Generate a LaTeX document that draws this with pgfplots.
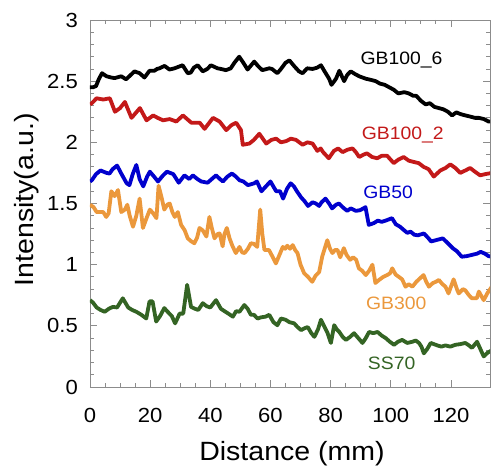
\documentclass[border=0pt]{standalone}
\usepackage{pgfplots}
\pgfplotsset{compat=1.18}
\usepackage{fontspec}
\setmainfont[FakeStretch=1.08]{Liberation Sans}
\definecolor{cred}{RGB}{195,25,25}
\definecolor{cblue}{RGB}{0,0,205}
\definecolor{corange}{RGB}{235,152,60}
\definecolor{cgreen}{RGB}{52,100,36}
\definecolor{caxis}{RGB}{140,140,140}
\begin{document}
\begin{tikzpicture}
\begin{axis}[
  at={(0,0)}, anchor=south west,
  scale only axis, width=400bp, height=367bp,
  xmin=0, xmax=133, ymin=0, ymax=3,
  xtick={0,20,...,120}, minor x tick num=3,
  ytick={0,0.5,...,3}, minor y tick num=4,
  yticklabels={0,0.5,1,1.5,2,2.5,3},
  tick align=inside,
  major tick length=7bp, minor tick length=4bp,
  axis line style={caxis, line width=0.9bp},
  tick style={draw=caxis, line width=0.8bp},
  /pgf/number format/assume math mode=true,
  ticklabel style={font=\fontsize{20.5}{24}\selectfont},
  xticklabel style={anchor=base, inner sep=0pt, yshift=-35.7bp},
  yticklabel style={anchor=east, inner sep=0pt, xshift=-12bp},
  xlabel={Distance (mm)}, ylabel={Intensity(a.u.)},
  label style={font=\fontsize{26.5}{30}\selectfont},
  xlabel style={at={(axis description cs:0.505,-0.199)}, anchor=base},
  ylabel style={at={(axis description cs:-0.14,0.51)}, anchor=base},
  every axis plot/.append style={line width=3.8bp, line join=round, no markers},
]
% GB100_6
\addplot[black] coordinates {
(0,2.45)(1,2.45)(2,2.46)(3,2.52)(4,2.565)(5.5,2.54)(7,2.53)(8.2,2.525)(10.4,2.54)(12,2.515)(13.5,2.55)(14.8,2.58)(16.5,2.565)(18.1,2.53)(19.8,2.585)(21.4,2.585)(22.3,2.60)(23.1,2.605)(24.8,2.625)(26.4,2.595)(28.1,2.605)(29.7,2.62)(30.8,2.63)(32.5,2.565)(33.5,2.57)(34.5,2.61)(35.8,2.63)(37.5,2.58)(39,2.60)(40.2,2.63)(42.4,2.605)(43.5,2.60)(45.2,2.59)(46.8,2.605)(48,2.65)(49.6,2.70)(51,2.65)(52.4,2.595)(54.6,2.66)(56,2.62)(57.3,2.59)(59.6,2.605)(60.5,2.60)(62.3,2.565)(63.5,2.60)(65,2.65)(66.3,2.67)(68,2.62)(69.5,2.58)(70.7,2.565)(72.2,2.605)(74,2.60)(75.5,2.61)(76.8,2.63)(78,2.58)(79.5,2.52)(80.3,2.47)(81.8,2.52)(82.9,2.585)(84.5,2.50)(85.5,2.55)(86.7,2.58)(88,2.56)(89.5,2.54)(91.7,2.52)(93.5,2.51)(95,2.50)(96.4,2.48)(98,2.47)(99.5,2.45)(101,2.43)(102.5,2.40)(104.5,2.41)(106,2.40)(107.5,2.38)(108.5,2.38)(110,2.34)(111.6,2.31)(113,2.32)(114.5,2.29)(116,2.28)(117.5,2.27)(119,2.25)(120.4,2.22)(121.8,2.245)(123.3,2.23)(124.8,2.22)(126.5,2.21)(128,2.20)(129.3,2.20)(131,2.19)(132.5,2.17)(133.6,2.17)};
% GB100_2
\addplot[cred] coordinates {
(0,2.31)(0.6,2.32)(2.2,2.36)(4.4,2.35)(6.6,2.36)(8.3,2.25)(10,2.28)(11.6,2.33)(13.8,2.20)(15.2,2.24)(16.6,2.28)(18.8,2.18)(21,2.22)(22.5,2.20)(24.3,2.18)(26.5,2.19)(28.7,2.17)(30.9,2.22)(33.7,2.16)(36.5,2.16)(38.1,2.11)(40.9,2.20)(43.1,2.17)(45.3,2.10)(47,2.14)(48.6,2.16)(50.2,2.10)(50.8,1.98)(53,1.99)(54.5,2.02)(56.3,2.07)(58.6,1.99)(60.3,2.02)(61.9,2.03)(63.5,2.00)(65.2,2.01)(66.8,2.03)(68.5,2.02)(70.7,1.98)(72.3,2.00)(74,1.99)(75.6,1.93)(76.7,1.95)(77.5,1.92)(79.4,1.87)(81.1,1.93)(82.5,1.95)(84,1.92)(85.6,1.94)(87.3,1.95)(88.4,1.92)(89.5,1.88)(91,1.90)(92.1,1.91)(93.8,1.88)(95.5,1.87)(97,1.89)(98.8,1.89)(101,1.83)(102.6,1.86)(104.3,1.88)(106,1.85)(107.6,1.84)(109.3,1.83)(110.9,1.80)(112.6,1.78)(114.3,1.72)(116.5,1.77)(118.2,1.79)(119.8,1.82)(121.5,1.79)(123.1,1.75)(124.8,1.77)(126.4,1.79)(128,1.76)(129.7,1.73)(131.4,1.74)(133.6,1.75)};
% GB50
\addplot[cblue] coordinates {
(0,1.68)(0.6,1.69)(2,1.74)(3.5,1.77)(5.5,1.75)(6.5,1.745)(7.5,1.78)(9,1.81)(10.5,1.74)(12.2,1.665)(13.1,1.65)(14.2,1.74)(15.4,1.815)(16.5,1.70)(17.7,1.64)(19,1.72)(19.9,1.76)(21.3,1.72)(22.6,1.68)(24.3,1.73)(25.6,1.76)(27.7,1.74)(29.5,1.67)(31.4,1.73)(33,1.70)(34.2,1.73)(35.7,1.70)(37,1.68)(39.1,1.67)(40.5,1.70)(41.9,1.73)(43.2,1.70)(44.2,1.68)(45.7,1.72)(47.2,1.745)(48.5,1.72)(49.7,1.69)(51,1.68)(52.5,1.65)(54.6,1.665)(55.5,1.68)(57,1.60)(58.5,1.64)(60,1.68)(61.9,1.60)(63.2,1.60)(64.2,1.54)(65.5,1.62)(66.7,1.665)(67.8,1.64)(68.8,1.60)(70.2,1.55)(71.3,1.52)(72.5,1.48)(74,1.51)(75.1,1.50)(76.2,1.48)(77,1.51)(78.3,1.54)(79.5,1.50)(80.5,1.46)(81.8,1.49)(82.8,1.50)(84,1.47)(85.5,1.44)(86.7,1.46)(88.4,1.44)(89.8,1.445)(91.6,1.47)(92.7,1.325)(94.4,1.34)(95.7,1.36)(97,1.35)(98.3,1.36)(100.4,1.38)(101.7,1.33)(103.1,1.31)(104.5,1.28)(105.5,1.26)(106.6,1.27)(107.8,1.245)(109,1.24)(111,1.255)(112.4,1.22)(113.4,1.19)(115,1.20)(117.3,1.215)(118.8,1.18)(120.6,1.135)(122,1.11)(123.6,1.065)(125.3,1.07)(127,1.08)(128.7,1.09)(129.9,1.105)(131.3,1.09)(132.5,1.07)(133.6,1.065)};
% GB300
\addplot[corange] coordinates {
(0,1.49)(1.2,1.47)(2.2,1.43)(3.5,1.43)(4.4,1.43)(5.4,1.39)(6.2,1.42)(7.1,1.60)(8.2,1.56)(9.3,1.61)(10.4,1.43)(11.6,1.45)(12.4,1.49)(13.2,1.40)(14.3,1.31)(15.4,1.40)(16.5,1.54)(17.6,1.30)(18.8,1.38)(19.9,1.45)(21,1.42)(22.1,1.38)(22.8,1.645)(23.8,1.55)(24.7,1.45)(25.7,1.49)(26.5,1.50)(27.4,1.43)(28.2,1.39)(29.2,1.43)(30.3,1.325)(31.5,1.28)(32.5,1.215)(33.7,1.19)(34.7,1.175)(35.6,1.22)(36.4,1.30)(37.5,1.28)(38.7,1.23)(39.7,1.39)(40.5,1.30)(41.4,1.215)(42.4,1.25)(43.1,1.255)(44.1,1.15)(44.7,1.25)(45.5,1.30)(46.4,1.215)(47.4,1.15)(48.5,1.095)(49.7,1.145)(50.6,1.10)(51.4,1.095)(52.5,1.13)(53.5,1.175)(54.5,1.17)(55.6,1.145)(56.6,1.45)(57.3,1.25)(58,1.12)(59.5,1.12)(60.8,1.06)(61.8,1.01)(63,1.08)(64.1,1.145)(64.9,1.13)(65.6,1.155)(66.5,1.13)(67.4,1.16)(68.2,1.12)(69,1.095)(70,1.00)(71.2,0.93)(72.5,0.90)(73.9,0.86)(75,0.91)(76.2,0.94)(77.2,1.065)(78.9,1.20)(79.8,1.13)(80.6,1.095)(81.5,1.12)(82.3,1.12)(83.2,1.06)(84.4,1.135)(85.3,1.08)(86.5,1.04)(87.5,1.06)(88.5,1.04)(89.4,0.97)(90.5,0.95)(91.7,0.915)(92.8,0.95)(93.9,1.00)(94.9,0.85)(96.1,0.875)(97.5,0.90)(98.8,0.915)(99.8,0.93)(100.5,0.97)(101.6,0.92)(102.7,0.90)(103.8,0.88)(104.9,0.82)(106,0.84)(107.2,0.82)(108.5,0.86)(109.8,0.89)(110.9,0.915)(111.8,0.86)(112.7,0.82)(114,0.85)(115,0.86)(116,0.875)(117.2,0.84)(118.2,0.82)(119.2,0.765)(120.9,0.88)(122,0.80)(122.6,0.765)(124,0.80)(124.8,0.79)(126,0.75)(127,0.725)(128.6,0.725)(129.3,0.78)(130.2,0.74)(130.9,0.71)(132.2,0.77)(133.6,0.82)};
% SS70
\addplot[cgreen] coordinates {
(0,0.71)(1,0.69)(2.2,0.65)(3.5,0.63)(4.9,0.615)(6.3,0.64)(7.6,0.655)(9,0.65)(10.9,0.725)(12.7,0.65)(14,0.63)(15.4,0.615)(17.1,0.59)(18.7,0.56)(19.8,0.70)(20.8,0.70)(22,0.535)(23.3,0.58)(24.7,0.645)(26,0.61)(27.2,0.58)(28.3,0.52)(29.8,0.60)(31,0.60)(32.3,0.835)(33.6,0.655)(34.8,0.64)(36,0.63)(37.5,0.685)(38.8,0.66)(40,0.65)(41.9,0.71)(43.5,0.64)(44.7,0.62)(46,0.60)(47.5,0.575)(48.6,0.62)(49.7,0.615)(51.3,0.67)(52.4,0.64)(53.5,0.59)(54.5,0.59)(55.7,0.56)(57,0.57)(58.4,0.575)(59.6,0.59)(61,0.53)(62.3,0.505)(63.5,0.56)(65,0.55)(66.3,0.53)(67.9,0.52)(69,0.49)(70.2,0.465)(71.3,0.48)(72.4,0.49)(73.6,0.44)(74.6,0.41)(75.8,0.47)(76.8,0.55)(78,0.49)(79,0.44)(80.1,0.36)(81.2,0.505)(82.1,0.47)(82.9,0.45)(84,0.41)(85.1,0.385)(86.5,0.41)(87.8,0.44)(89.2,0.40)(90.6,0.36)(91.7,0.40)(92.8,0.45)(94.2,0.44)(95.6,0.45)(97,0.42)(98.3,0.40)(99.7,0.37)(101.1,0.345)(102.4,0.37)(103.8,0.385)(105.5,0.36)(107.2,0.37)(108.3,0.38)(109.4,0.36)(110.2,0.33)(111,0.275)(112.1,0.31)(113.3,0.36)(114.4,0.35)(115.5,0.34)(116.8,0.33)(118.2,0.34)(119.8,0.33)(121.5,0.345)(123,0.35)(124.8,0.36)(126,0.34)(127,0.32)(128.7,0.37)(129.8,0.31)(130.9,0.25)(132.2,0.28)(133.6,0.30)};
\begin{scope}[every node/.style={font=\fontsize{18}{21}\selectfont, anchor=base, inner sep=0pt}]
\node[black] at (axis cs:103.6,2.633) {GB100\_6};
\node[cred] at (axis cs:104,2.025) {GB100\_2};
\node[cblue] at (axis cs:99.1,1.543) {GB50};
\node[corange] at (axis cs:101.8,0.635) {GB300};
\node[cgreen] at (axis cs:100.3,0.139) {SS70};
\end{scope}
\end{axis}
\pgfresetboundingbox
\useasboundingbox (-90bp,-81bp) rectangle (403bp,387bp);
\end{tikzpicture}
\end{document}
